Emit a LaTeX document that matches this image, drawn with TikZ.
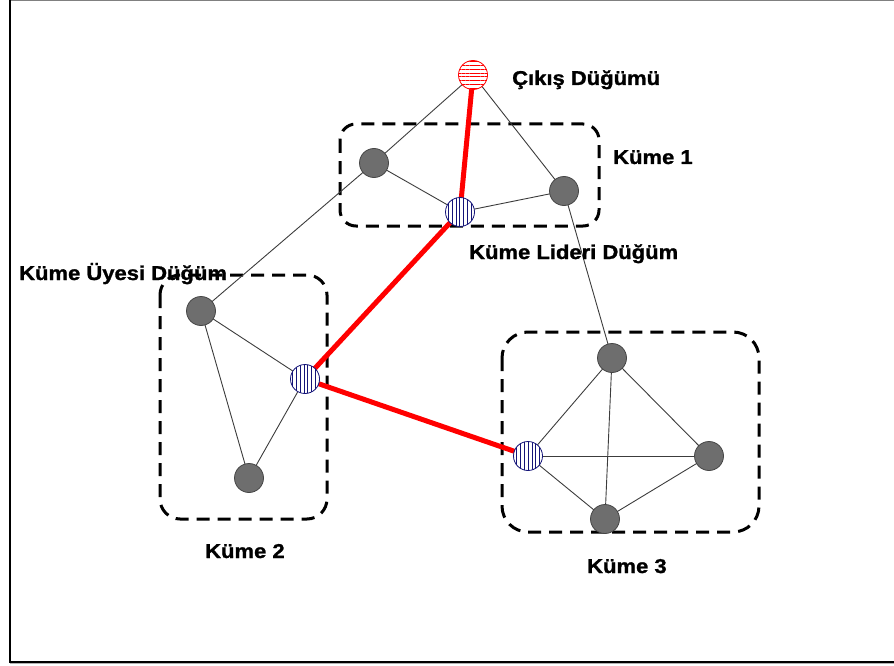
\documentclass[tikz,border=0pt]{standalone}
\usepackage{fontspec}
\setmainfont{Liberation Sans}[BoldFeatures={FakeBold=1.2}]
\usetikzlibrary{patterns.meta}
\definecolor{membergray}{RGB}{110,110,110}
\definecolor{memberedge}{RGB}{70,70,70}
\definecolor{linkgray}{RGB}{60,60,60}
\definecolor{leaderblue}{RGB}{20,20,120}
\definecolor{pathred}{RGB}{255,0,0}

\begin{document}
\begin{tikzpicture}[x=1pt,y=-1pt,
  lbl/.style={anchor=base west, inner sep=0pt, font=\fontsize{20}{24}\selectfont\bfseries},
  member/.style={circle, minimum size=29pt, inner sep=0pt, fill=membergray, draw=memberedge, line width=0.8pt},
  leader/.style={circle, minimum size=29pt, inner sep=0pt, fill=white, draw=leaderblue, line width=0.8pt,
    postaction={pattern={Lines[angle=90,distance=3.8pt,line width=1pt]}, pattern color=leaderblue}},
  sink/.style={circle, minimum size=29pt, inner sep=0pt, fill=white, draw=pathred, line width=0.8pt,
    postaction={pattern={Lines[angle=0,distance=3.8pt,line width=1pt]}, pattern color=pathred}},
  link/.style={draw=linkgray, line width=0.9pt},
  route/.style={draw=pathred, line width=5pt},
  clusterbox/.style={draw=black, line width=3pt, dash pattern=on 13pt off 8pt}]

\useasboundingbox (0,0) rectangle (894,666);

% outer frame
\draw[gray, line width=1.2pt] (9.5,0.6) -- (894,0.6);
\draw[black, line width=2pt] (9.5,0) -- (9.5,661.5) -- (894,661.5);
\draw[gray!60, line width=1.2pt] (10,663.6) -- (894,663.6);

% cluster outlines
\draw[clusterbox, rounded corners=16pt] (340,124) rectangle (599,226);
\draw[clusterbox, rounded corners=20pt] (160,275) rectangle (327,519);
\draw[clusterbox, rounded corners=26pt] (502,332) rectangle (759,532);

% node placement
\coordinate (pS)  at (473,75);
\coordinate (pA)  at (374,163);
\coordinate (pB)  at (564,191);
\coordinate (pL1) at (460,212);
\coordinate (pC)  at (201,311);
\coordinate (pL2) at (305,379);
\coordinate (pD)  at (249,478);
\coordinate (pE)  at (612,358);
\coordinate (pL3) at (528,456);
\coordinate (pF)  at (709,456);
\coordinate (pG)  at (605,519);

% ordinary links
\path[link] (pS) -- (pA);
\path[link] (pS) -- (pB);
\path[link] (pA) -- (pL1);
\path[link] (pL1) -- (pB);
\path[link] (pA) -- (pC);
\path[link] (pB) -- (pE);
\path[link] (pC) -- (pL2);
\path[link] (pC) -- (pD);
\path[link] (pL2) -- (pD);
\path[link] (pE) -- (pL3);
\path[link] (pE) -- (pF);
\path[link] (pE) -- (pG);
\path[link] (pL3) -- (pF);
\path[link] (pL3) -- (pG);
\path[link] (pG) -- (pF);

% route to the sink
\path[route] (pS) -- (pL1) -- (pL2) -- (pL3);

% nodes
\node[sink]   (S)  at (pS)  {};
\node[member] (A)  at (pA)  {};
\node[member] (B)  at (pB)  {};
\node[leader] (L1) at (pL1) {};
\node[member] (C)  at (pC)  {};
\node[leader] (L2) at (pL2) {};
\node[member] (D)  at (pD)  {};
\node[member] (E)  at (pE)  {};
\node[leader] (L3) at (pL3) {};
\node[member] (F)  at (pF)  {};
\node[member] (G)  at (pG)  {};

% labels
\node[lbl] at (512,85)  {\scalebox{1.1}[1]{Çıkış Düğümü}};
\node[lbl] at (613,164) {\scalebox{1.1}[1]{Küme 1}};
\node[lbl] at (469,259) {\scalebox{1.1}[1]{Küme Lideri Düğüm}};
\node[lbl] at (19,280)  {\scalebox{1.1}[1]{Küme Üyesi Düğüm}};
\node[lbl] at (205,558) {\scalebox{1.1}[1]{Küme 2}};
\node[lbl] at (587,573) {\scalebox{1.1}[1]{Küme 3}};
\end{tikzpicture}
\end{document}
